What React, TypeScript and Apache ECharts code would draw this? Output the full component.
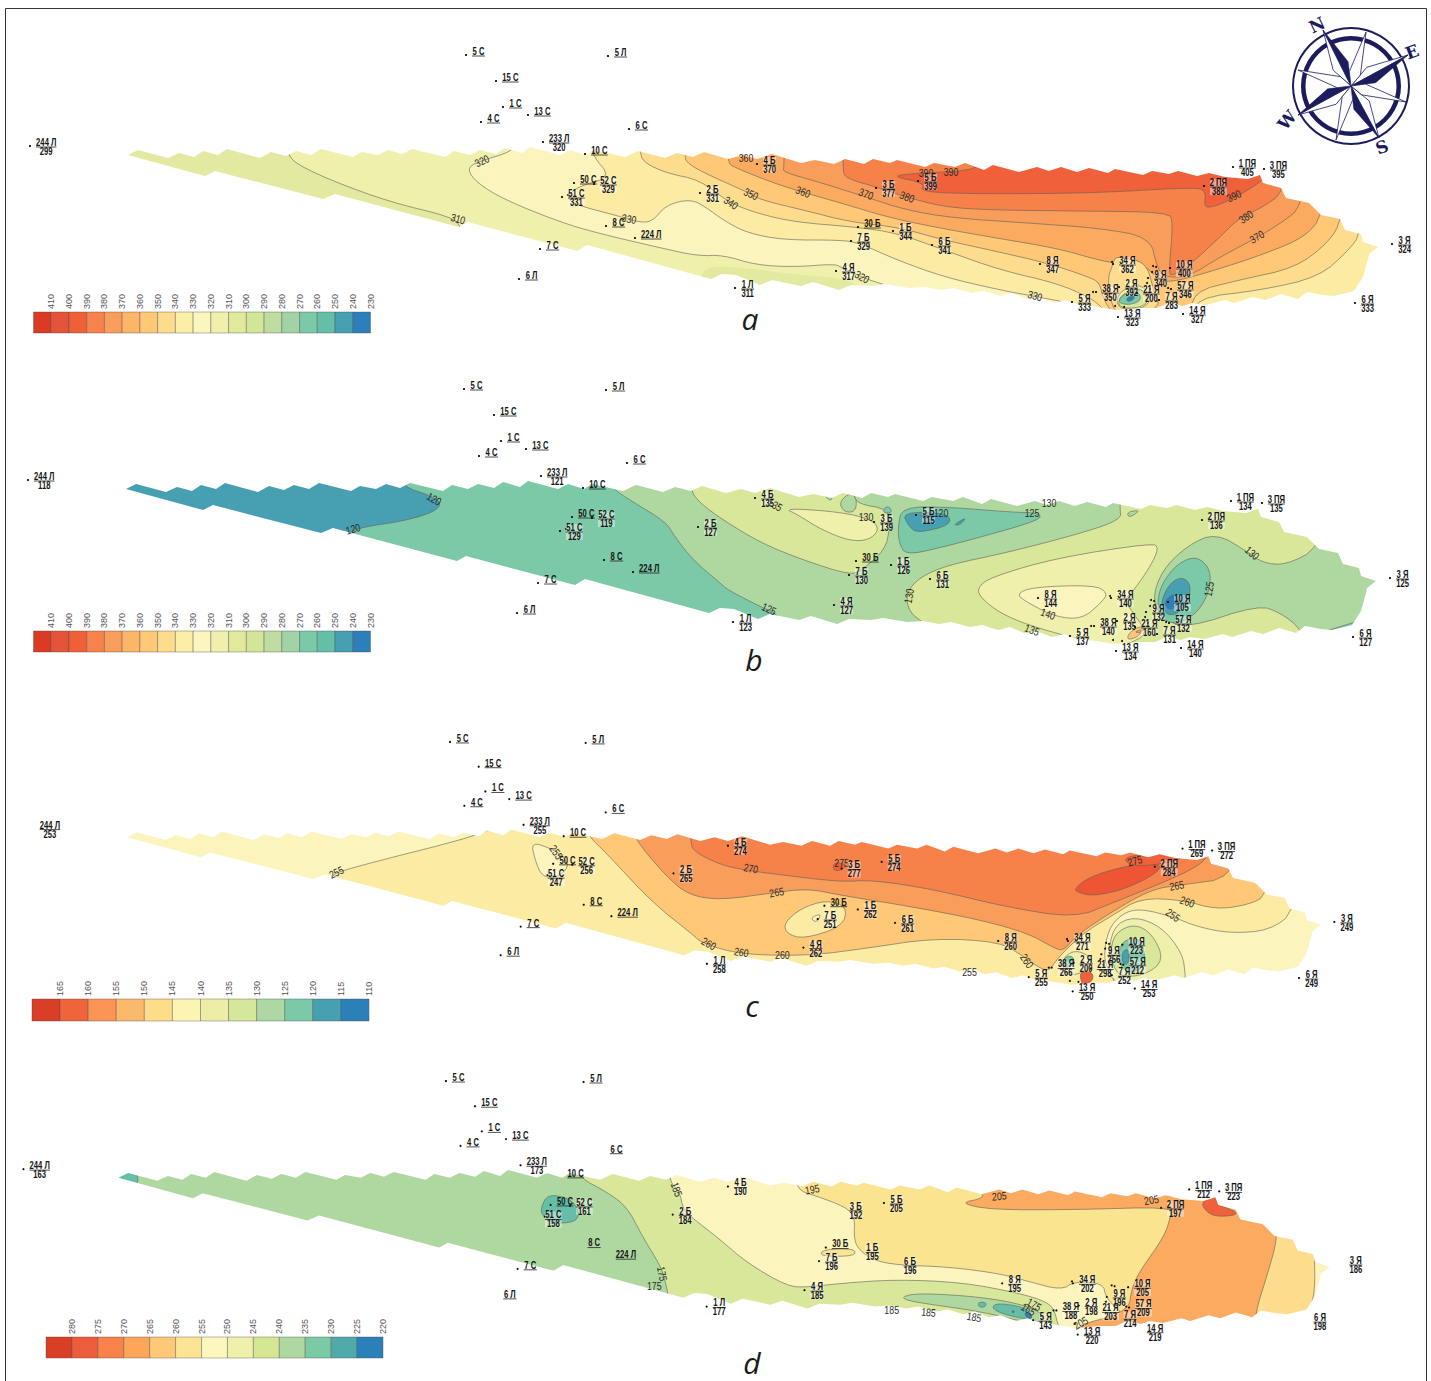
import React, { useEffect, useRef } from "react";
import * as echarts from "echarts";

// ---------- wells (map coordinates) ----------
const wellNames = ["244 Л","233 Л","5 С","5 Л","15 С","1 С","13 С","4 С","6 С","10 С","50 С","52 С","51 С","8 С","224 Л","7 С","6 Л","2 Б","4 Б","3 Б","5 Б","30 Б","1 Б","6 Б","7 Б","1 Л","4 Я","8 Я","34 Я","10 Я","9 Я","57 Я","38 Я","2 Я","21 Я","7 Я","5 Я","13 Я","14 Я","6 Я","3 Я","1 ПЯ","3 ПЯ","2 ПЯ"];
const wellX = [30,543,466,608,496,503,528,481,629,585,574,594,562,606,635,540,519,700,757,876,918,858,893,932,851,735,836,1040,1113,1170,1148,1171,1096,1119,1137,1159,1072,1118,1183,1355,1392,1233,1264,1204];
const wellY = [146,142,55,56,81,107,115,122,129,154,183,184,197,226,238,249,279,193,164,188,181,227,231,245,241,288,271,264,264,268,278,289,292,287,293,300,302,317,314,303,244,167,169,186];
const _ = null;
const valuesA = [299,320,_,_,_,_,_,_,_,_,_,329,331,_,_,_,_,331,370,377,399,_,344,341,329,311,317,347,362,400,340,346,350,392,200,283,333,323,327,333,324,405,395,388];
const valuesB = [118,121,_,_,_,_,_,_,_,_,_,119,129,_,_,_,_,127,135,139,115,_,126,131,130,123,127,144,140,105,132,132,140,135,160,131,137,134,140,127,125,134,135,136];
const valuesC = [253,255,_,_,_,_,_,_,_,_,_,256,247,_,_,_,_,265,274,277,274,_,262,261,251,258,262,260,271,223,256,212,266,200,298,252,255,250,253,249,249,269,272,284];
const valuesD = [163,173,_,_,_,_,_,_,_,_,_,161,158,_,_,_,_,184,190,192,205,_,195,196,196,177,185,195,202,205,196,209,188,198,203,214,143,220,219,198,186,212,223,197];
const extraDotsX = [1112,1153,1156,1152,1147,1150,1168,1115,1124,1157,1093,568];
const extraDotsY = [262,266,267,272,283,289,288,306,307,301,292,195];

// ---------- map outline (map coordinates) ----------
const outline = [[128,155],[138,150],[168,158],[179,153],[194,157],[203,151],[218,155],[227,149],[260,158],[271,152],[286,156],[296,151],[311,155],[321,149],[353,157],[362,152],[378,155],[388,150],[402,154],[412,149],[445,157],[454,151],[470,155],[480,150],[496,154],[505,148],[522,153],[530,147],[560,155],[570,150],[586,155],[594,150],[625,157],[638,151],[665,158],[677,153],[693,157],[704,152],[728,159],[743,155],[757,159],[772,154],[801,163],[815,160],[834,164],[845,159],[864,164],[873,159],[890,163],[897,160],[925,167],[934,163],[955,167],[965,163],[984,170],[993,165],[1019,172],[1037,167],[1049,171],[1061,167],[1077,172],[1089,168],[1108,173],[1115,169],[1143,175],[1152,171],[1169,174],[1178,171],[1197,176],[1209,173],[1225,177],[1248,179],[1260,175],[1263,183],[1281,188],[1286,198],[1309,203],[1321,215],[1340,219],[1345,230],[1361,234],[1363,242],[1378,247],[1369,254],[1368,259],[1363,277],[1354,291],[1334,296],[1323,295],[1307,292],[1298,299],[1281,294],[1265,300],[1253,297],[1234,303],[1225,300],[1206,305],[1192,303],[1183,306],[1169,303],[1157,308],[1141,308],[1117,310],[1098,307],[1080,305],[1066,300],[1054,303],[1038,297],[1026,299],[1012,293],[1000,296],[984,291],[972,293],[953,288],[941,290],[925,287],[909,288],[885,284],[873,286],[851,285],[839,290],[813,282],[801,286],[772,280],[760,285],[736,275],[722,274],[711,279],[587,245],[577,251],[468,222],[459,227],[335,194],[323,199],[215,171],[205,176]];
const full = [[100,135],[1400,135],[1400,325],[100,325]];
const maskBox = [[90,125],[1410,125],[1410,332],[90,332]];

// ---------- filled contour bands (tone, polygon) ----------
const bandsA: any[] = [
["g2",full,false],
["g1",[[288,140],[288,155],[298,165],[335,182],[390,202],[452,217],[461,227],[470,250],[700,300],[1000,322],[1395,322],[1395,140]]],
["y3",[[514,140],[514,151],[477,162],[467,169],[477,183],[505,200],[560,222],[597,233],[661,248],[698,256],[723,255],[756,265],[794,267],[834,264],[841,267],[862,277],[878,283],[902,289],[925,300],[1000,322],[1395,322],[1395,140]]],
["g2",[[700,268],[730,266],[790,274],[840,278],[860,286],[860,300],[700,300]],false],
["y2",[[592,140],[592,155],[611,177],[583,185],[569,193],[569,203],[622,217],[638,222],[652,222],[666,205],[691,199],[707,208],[723,220],[747,233],[784,240],[841,240],[859,243],[897,260],[944,277],[1000,290],[1038,297],[1070,303],[1090,322],[1395,322],[1395,140]]],
["y1",[[640,140],[640,151],[643,162],[666,173],[700,180],[728,202],[756,213],[794,222],[855,227],[897,233],[944,250],[1000,270],[1056,283],[1089,297],[1103,308],[1110,322],[1195,322],[1195,298],[1262,290],[1319,277],[1349,250],[1361,233],[1370,140]]],
["o4",[[685,140],[685,155],[686,162],[702,172],[747,192],[761,200],[803,210],[850,222],[897,227],[944,240],[990,250],[1047,263],[1089,277],[1100,283],[1103,300],[1120,322],[1192,322],[1192,292],[1239,280],[1295,268],[1328,243],[1342,220],[1350,140]]],
["o3",[[728,140],[728,162],[733,167],[784,187],[841,203],[887,217],[934,227],[990,237],[1056,248],[1098,260],[1115,263],[1140,262],[1160,280],[1173,282],[1216,270],[1267,253],[1305,237],[1323,215],[1330,140]]],
["o2",[[784,140],[784,167],[783,172],[822,183],[869,198],[906,210],[953,218],[1028,223],[1098,228],[1150,237],[1157,267],[1164,277],[1188,277],[1220,257],[1258,237],[1281,223],[1302,207],[1310,140]]],
["o1",[[843,140],[843,169],[845,178],[876,187],[906,197],[944,207],[991,210],[1075,211],[1169,212],[1173,223],[1169,270],[1171,277],[1192,263],[1220,237],[1239,218],[1263,207],[1284,192],[1290,140]]],
["r2",[[981,150],[981,170],[920,173],[890,176],[925,183],[920,192],[981,194],[1098,193],[1197,187],[1206,192],[1204,207],[1213,207],[1230,200],[1260,183],[1270,170],[1270,150]]],
["y1",[[1112,267],[1115,257],[1123,258],[1137,260],[1147,267],[1152,283],[1155,297],[1160,303],[1150,312],[1123,312],[1115,312],[1110,297],[1108,277]]],
["g1",[[1118,292],[1140,283],[1152,298],[1143,309],[1117,309]]],
["g3",[[1120,295],[1140,287],[1150,300],[1140,308],[1118,308]]],
["t1",[[1122,295],[1137,290],[1142,300],[1130,305],[1118,303]]],
["b1",[[1127,297],[1135,296],[1133,300],[1127,302]]],
];
const bandsB: any[] = [
["t1",full,false],
["t3",[[406,140],[406,153],[431,161],[444,169],[436,178],[406,187],[365,193],[349,199],[340,220],[110,200],[110,140]]],
["g4",[[612,140],[612,153],[635,168],[668,188],[677,203],[695,226],[722,249],[730,256],[763,273],[782,281],[800,322],[1395,322],[1395,140]]],
["g3",[[693,140],[693,157],[702,169],[725,186],[763,209],[805,226],[852,241],[864,236],[887,216],[892,193],[890,175],[860,170],[855,160],[855,140]]],
["g4",[[841,168],[846,178],[857,178],[859,166],[853,158]]],
["g4",[[824,159],[833,168],[835,160]]],
["t1",[[885,179],[894,179],[892,173],[887,173]]],
["g3",[[1122,150],[1340,150],[1321,214],[1288,231],[1265,229],[1250,218],[1218,199],[1190,211],[1164,236],[1154,266],[1166,286],[1190,294],[1260,271],[1283,279],[1304,296],[1310,322],[940,322],[936,296],[927,290],[911,278],[908,259],[922,243],[950,231],[1007,219],[1077,201],[1123,186],[1122,174]]],
["g4",[[1129,178],[1143,176],[1131,184]]],
["t1",[[904,173],[950,173],[1011,178],[1042,179],[1042,186],[983,203],[941,214],[908,221],[901,209],[900,193]]],
["t3",[[904,178],[950,179],[953,191],[920,199],[911,193]]],
["t3",[[955,191],[969,183],[962,191]]],
["g1",[[979,254],[993,243],[1058,224],[1154,209],[1161,214],[1152,233],[1136,256],[1126,266],[1138,283],[1150,300],[1126,312],[1110,312],[1072,303],[1030,291],[1002,279],[983,264]]],
["y3",[[1018,260],[1035,253],[1096,251],[1110,259],[1103,269],[1084,285],[1058,283],[1030,269]]],
["g1",[[786,174],[843,178],[875,186],[881,196],[871,206],[852,207],[824,196],[800,181]]],
["t1",[[1199,222],[1213,236],[1211,259],[1199,279],[1180,290],[1164,286],[1159,269],[1164,249],[1180,229]]],
["t3",[[1185,243],[1193,251],[1190,269],[1175,283],[1164,276],[1164,264],[1173,248]]],
["b1",[[1173,261],[1180,261],[1178,273],[1171,276],[1166,269]]],
["o4",[[1131,299],[1140,293],[1147,293],[1140,303],[1129,306]]],
["o2",[[1136,298],[1145,295],[1142,299]]],
];
const bandsC: any[] = [
["y3",full,false],
["y2",[[509,140],[509,150],[355,189],[341,196],[330,225],[700,300],[1000,322],[1165,322],[1160,301],[1150,284],[1155,252],[1170,235],[1189,230],[1224,239],[1248,249],[1283,256],[1324,253],[1351,233],[1360,140]]],
["y3",[[551,160],[572,167],[584,175],[591,186],[577,198],[562,196],[555,179]]],
["o4",[[610,140],[610,153],[630,172],[677,223],[721,258],[728,265],[757,275],[791,279],[846,279],[900,272],[973,261],[1042,265],[1066,280],[1081,291],[1093,296],[1101,284],[1116,268],[1135,252],[1160,237],[1189,219],[1233,221],[1268,231],[1302,226],[1322,216],[1330,140]]],
["y2",[[816,245],[833,230],[860,221],[882,228],[877,249],[836,262],[818,256]]],
["y3",[[843,240],[855,235],[850,245]]],
["o2",[[658,140],[658,155],[692,196],[716,216],[749,221],[801,214],[840,209],[875,216],[949,228],[1022,242],[1071,256],[1096,270],[1108,275],[1120,260],[1150,239],[1199,210],[1233,205],[1285,198],[1300,140]]],
["o1",[[718,140],[718,160],[721,170],[749,184],[777,190],[816,195],[875,202],[909,200],[973,210],[1047,228],[1120,240],[1160,224],[1219,200],[1248,186],[1260,175],[1270,140]]],
["r2",[[868,181],[882,184],[875,190],[867,190]]],
["r3",[[1120,209],[1135,197],[1170,186],[1206,181],[1211,190],[1175,209],[1140,217],[1123,213]]],
["r2",[[1170,175],[1214,172],[1238,175],[1214,183],[1179,186]]],
["g1",[[1160,249],[1182,238],[1211,249],[1233,277],[1236,300],[1236,312],[1160,312],[1155,284]]],
["g3",[[1162,256],[1182,246],[1201,256],[1214,284],[1194,300],[1165,302],[1157,277]]],
["t1",[[1167,267],[1182,260],[1192,267],[1194,291],[1179,298],[1167,291]]],
["t3",[[1170,275],[1177,272],[1177,288],[1170,288]]],
["g1",[[1106,284],[1120,273],[1138,281],[1135,295],[1111,302]]],
["t1",[[1108,282],[1118,279],[1120,289],[1108,293]]],
["r2",[[1125,296],[1138,296],[1140,305],[1128,312]]],
];
const bandsD: any[] = [
["g4",full,false],
["t2",[[120,150],[148,148],[148,165],[120,165]]],
["t2",[[571,173],[586,174],[598,180],[604,193],[598,201],[577,202],[564,193],[565,183]]],
["g3",[[604,140],[604,155],[631,169],[653,185],[669,216],[688,247],[693,264],[700,300],[1395,322],[1395,140]]],
["y3",[[697,140],[697,159],[707,169],[711,188],[721,197],[748,218],[777,243],[818,267],[839,268],[873,264],[931,260],[999,263],[1057,274],[1086,283],[1094,292],[1098,309],[1106,322],[1395,322],[1395,140]]],
["y0",[[827,140],[827,159],[832,169],[849,174],[878,185],[888,195],[887,219],[893,230],[907,240],[931,245],[985,247],[1038,254],[1067,262],[1101,271],[1115,262],[1144,264],[1147,278],[1156,288],[1164,295],[1144,305],[1115,309],[1110,322],[1395,322],[1395,140]]],
["y0",[[852,236],[855,229],[888,228],[888,236]]],
["y1",[[1301,322],[1301,295],[1314,254],[1324,218],[1321,200],[1362,225],[1363,273],[1356,295],[1380,322]],false],
["y3",[[1362,225],[1363,273],[1356,295],[1395,322],[1395,200]]],
["o3",[[1018,140],[1018,169],[1021,176],[996,181],[1028,188],[1115,188],[1214,185],[1214,195],[1207,216],[1183,250],[1176,264],[1173,274],[1171,288],[1154,298],[1130,304],[1120,309],[1130,322],[1301,322],[1301,295],[1314,254],[1324,218],[1321,200],[1290,140]]],
["r2",[[1245,181],[1258,172],[1263,183],[1282,190],[1280,194],[1260,195],[1251,190]]],
["r2",[[1185,304],[1195,305],[1190,309]]],
["g4",[[935,278],[955,274],[1018,278],[1062,286],[1081,295],[1084,304],[1062,304],[1018,293],[946,283]]],
["t2",[[1031,284],[1062,288],[1072,298],[1067,302],[1031,293]]],
["t2",[[1016,283],[1024,284],[1022,289],[1015,288]]],
["b1",[[1050,292],[1053,293],[1051,295]]],
["b1",[[1063,294],[1069,295],[1071,300],[1065,300]]],
];

// ---------- contour labels: x, y, clockwise angle, text ----------
const labelsA: any[] = [[746,158,0,"360"],[803,192,20,"360"],[751,194,25,"350"],[731,203,35,"340"],[866,194,20,"370"],[907,197,20,"380"],[926,173,0,"390"],[951,172,0,"390"],[1234,196,-25,"390"],[1246,217,-35,"380"],[1257,237,-30,"370"],[1035,296,15,"330"],[862,277,30,"320"],[458,219,15,"310"],[482,161,-25,"320"],[629,219,10,"330"]];
const labelsB: any[] = [[436,165,30,"120"],[355,195,-15,"120"],[771,275,25,"125"],[911,262,-80,"130"],[868,183,0,"130"],[777,171,30,"135"],[943,179,0,"120"],[1034,179,0,"125"],[1051,169,0,"130"],[1254,219,40,"130"],[1211,255,-80,"125"],[1050,280,20,"140"],[1034,296,20,"135"]];
const labelsC: any[] = [[347,192,-25,"255"],[577,171,55,"255"],[737,267,30,"260"],[771,276,10,"260"],[814,279,0,"260"],[781,188,10,"270"],[876,182,0,"275"],[808,213,-10,"265"],[1070,285,55,"260"],[1010,297,0,"255"],[1183,180,-15,"275"],[1227,206,-10,"265"],[1238,223,20,"260"],[1223,237,35,"255"]];
const labelsD: any[] = [[704,167,70,"185"],[689,254,80,"175"],[681,267,0,"175"],[844,167,-10,"195"],[1037,174,-5,"205"],[1194,178,-10,"205"],[926,292,0,"185"],[964,294,5,"185"],[1011,299,10,"185"],[1073,286,30,"175"],[1067,291,30,"165"],[1121,305,-30,"205"]];

// ---------- legends ----------
const levelsAB = [410,400,390,380,370,360,350,340,330,320,310,300,290,280,270,260,250,240,230];
const colorsAB = ["#DB3A24","#E5533A","#F06038","#F8824B","#F99D5B","#FDB668","#FEC877","#FDDC8C","#FBEEA6","#FBF5BF","#EFF0AC","#E1E99C","#D3E698","#BFDDA0","#A2D3A4","#7CC9A7","#65BFA8","#46A0B2","#2B80BA"];
const levelsC = [165,160,155,150,145,140,135,130,125,120,115,110];
const colorsC = ["#DB3E26","#F0643C","#FB9454","#FDB96B","#FEDD88","#FCF4B3","#EEEDA8","#D5E79A","#ADD8A3","#7CC9A9","#46A0B2","#2B80BA"];
const levelsD = [280,275,270,265,260,255,250,245,240,235,230,225,220];
const colorsD = ["#DB3E26","#EE5D3B","#F9824B","#FCA65A","#FEC876","#FDE495","#FDF6BF","#EFF0AC","#D5E794","#AFD8A0","#7CC9A6","#50AAAA","#2B80BA"];

const tones: Record<string,string> = { r3:"#EE5535", r2:"#F0603A", o1:"#F6824A", o2:"#F99D5B", o3:"#FBAA60", o4:"#FEC877", y0:"#FBE490", y1:"#FDDD8D", y2:"#FCEBA3", y3:"#FBF4BC", g1:"#EFF0AC", g2:"#E3E9A0", g3:"#D9E79A", g4:"#AED8A0", t1:"#7CC9A7", t2:"#65BFA8", t3:"#46A0B2", b1:"#2B80BA" };

const SANS = '"Liberation Sans",sans-serif';
const X_RANGE = [20, 1420];
const Y_RANGE = [0, 340];

// panel placement on the page
const panels = [
  { sx: 1, tx: 0, sy: 1, ty: 0, bands: bandsA, labels: labelsA, values: valuesA },
  { sx: 1, tx: -2, sy: 1, ty: 334, bands: bandsB, labels: labelsB, values: valuesB },
  { sx: 0.955, tx: 5, sy: 0.952, ty: 689.6, bands: bandsC, labels: labelsC, values: valuesC },
  { sx: 0.969, tx: -5.6, sy: 0.968, ty: 1027.8, bands: bandsD, labels: labelsD, values: valuesD },
];
const legends = [
  { left: 33.5, top: 312, w: 337, h: 21, levels: levelsAB, colors: colorsAB },
  { left: 33.5, top: 631, w: 337, h: 21, levels: levelsAB, colors: colorsAB },
  { left: 32, top: 999, w: 337, h: 22, levels: levelsC, colors: colorsC },
  { left: 46, top: 1337, w: 337, h: 21, levels: levelsD, colors: colorsD },
];

// rounds the corners of a closed contour so it reads as a smooth isoline
function rounded(pts: number[][], rounds: number): number[][] {
  let cur = pts;
  for (let r = 0; r < rounds; r++) {
    const next: number[][] = [];
    cur.forEach((p, i) => {
      const q = cur[(i + 1) % cur.length];
      next.push([p[0] * 0.75 + q[0] * 0.25, p[1] * 0.75 + q[1] * 0.25]);
      next.push([p[0] * 0.25 + q[0] * 0.75, p[1] * 0.25 + q[1] * 0.75]);
    });
    cur = next;
  }
  return cur;
}

// ---------- compass (offsets from its centre) ----------
const compassCentre = [1351, 86];
const majorTips = [[-28,-56],[57,-31],[28,52],[-53,29]];
const minorTips = [[15,-54],[55,16],[-15,54],[-53,-16]];

function compass(): any[] {
  const [cx, cy] = compassCentre;
  const navy = "#1B1B5E";
  const P = (p: number[]) => [cx + p[0], cy + p[1]];
  const els: any[] = [
    { type: "ring", shape: { cx, cy, r: 59, r0: 57 }, style: { fill: navy } },
    { type: "ring", shape: { cx, cy, r: 50, r0: 45.5 }, style: { fill: navy } },
  ];
  const inner = (a: number[], b: number[], k = 0.22) => [(a[0] + b[0]) * k, (a[1] + b[1]) * k];
  majorTips.forEach((t, i) => {
    const r = inner(t, minorTips[i]);
    const l = inner(minorTips[(i + 3) % 4], t);
    els.push({ type: "polygon", shape: { points: [[0,0],l,t].map(P) }, style: { fill: "#fff", stroke: navy, lineWidth: 0.8 } });
    els.push({ type: "polygon", shape: { points: [[0,0],t,r].map(P) }, style: { fill: navy, stroke: navy, lineWidth: 0.5 } });
  });
  minorTips.forEach((t, i) => {
    const l = inner(majorTips[i], t, 0.13);
    const r = inner(t, majorTips[(i + 1) % 4], 0.13);
    els.push({ type: "polygon", shape: { points: [[0,0],l,t,r].map(P) }, style: { fill: "#fff", stroke: navy, lineWidth: 0.8 } });
  });
  const letters: any[] = [["N",1317,25,25],["E",1412,52,20],["S",1382,147,20],["W",1287,120,50]];
  letters.forEach(([text, x, y, deg]) => {
    els.push({ type: "text", x, y, rotation: (deg * Math.PI) / 180, style: { text, fill: navy, font: 'bold 17px "DejaVu Serif",serif', align: "center", verticalAlign: "middle" } });
  });
  return els;
}

export default function App() {
  const ref = useRef<HTMLDivElement>(null);
  useEffect(() => {
    const chart = echarts.init(ref.current!, undefined, { renderer: "svg" });
    const grid: any[] = [];
    const xAxis: any[] = [];
    const yAxis: any[] = [];
    const series: any[] = [];

    panels.forEach((p, i) => {
      grid.push({ left: p.tx + X_RANGE[0] * p.sx, top: p.ty + Y_RANGE[0] * p.sy, width: (X_RANGE[1] - X_RANGE[0]) * p.sx, height: (Y_RANGE[1] - Y_RANGE[0]) * p.sy });
      xAxis.push({ type: "value", gridIndex: i, min: X_RANGE[0], max: X_RANGE[1], show: false });
      yAxis.push({ type: "value", gridIndex: i, min: Y_RANGE[0], max: Y_RANGE[1], inverse: true, show: false });
      const common = { type: "custom", xAxisIndex: i, yAxisIndex: i, silent: true, clip: false };
      series.push({
        ...common, z: 1, data: p.bands.map((_b: any, k: number) => [k]),
        renderItem: (rp: any, api: any) => {
          const b = p.bands[rp.dataIndex];
          const pts = b[2] === false && b[1] === full ? b[1] : rounded(b[1], 2);
          return { type: "polygon", shape: { points: pts.map((c: number[]) => api.coord(c)) }, style: { fill: tones[b[0]], stroke: b[2] === false ? "none" : "#5f5f55", lineWidth: 0.6 } };
        },
      });
      const hole = [...outline].reverse();
      const maskPts = [...maskBox, maskBox[0], outline[0], ...hole, maskBox[0]];
      series.push({
        ...common, z: 2, data: [[0]],
        renderItem: (_rp: any, api: any) => ({ type: "polygon", shape: { points: maskPts.map((c) => api.coord(c)) }, style: { fill: "#fff", stroke: "none" } }),
      });
      series.push({
        ...common, z: 3, data: p.labels.map((l: any[]) => [l[0], l[1], l[2]]),
        renderItem: (rp: any, api: any) => {
          const l = p.labels[rp.dataIndex];
          const c = api.coord([l[0], l[1]]);
          return { type: "text", x: c[0], y: c[1], rotation: (-l[2] * Math.PI) / 180, scaleX: 0.8, style: { text: l[3], fill: "#2b2b28", font: `11px ${SANS}`, align: "center", verticalAlign: "middle" } };
        },
      });
      series.push({
        ...common, z: 4, data: extraDotsX.map((x, k) => [x, extraDotsY[k]]),
        renderItem: (_rp: any, api: any) => {
          const c = api.coord([api.value(0), api.value(1)]);
          return { type: "circle", shape: { cx: c[0], cy: c[1], r: 1 }, style: { fill: "#111" } };
        },
      });
      series.push({
        ...common, z: 5, data: wellNames.map((_n, k) => [wellX[k], wellY[k], k]),
        renderItem: (rp: any, api: any) => {
          const k = rp.dataIndex;
          const c = api.coord([wellX[k], wellY[k]]);
          const name = wellNames[k];
          const val = p.values[k];
          const w = name.length * 3.7 + 2;
          const x0 = c[0] + 6;
          const mid = x0 + w / 2;
          const children: any[] = [
            { type: "circle", shape: { cx: c[0], cy: c[1], r: 1.1 }, style: { fill: "#111" } },
          ];
          if (val != null) {
            children.push({ type: "rect", shape: { x: mid - w / 2, y: c[1] - 7, width: w, height: 16 }, style: { fill: "rgba(255,255,255,0.42)" } });
          }
          const font = `bold 9px ${SANS}`;
          children.push({ type: "text", x: mid, y: c[1] - 3.5, scaleX: 0.85, scaleY: 1.15, style: { text: name, fill: "#161616", font, align: "center", verticalAlign: "middle" } });
          children.push({ type: "line", shape: { x1: x0, y1: c[1] + 1, x2: x0 + w, y2: c[1] + 1 }, style: { stroke: "#222", lineWidth: 0.8 } });
          if (val != null) {
            children.push({ type: "text", x: mid, y: c[1] + 5.5, scaleX: 0.85, scaleY: 1.15, style: { text: String(val), fill: "#161616", font, align: "center", verticalAlign: "middle" } });
          }
          return { type: "group", children };
        },
      });
    });

    legends.forEach((l, j) => {
      const i = panels.length + j;
      grid.push({ left: l.left, top: l.top, width: l.w, height: l.h });
      xAxis.push({
        type: "value", gridIndex: i, min: 0, max: l.levels.length, interval: 1, position: "top", z: 10,
        axisLine: { show: false }, axisTick: { show: false }, splitLine: { show: false },
        axisLabel: { rotate: 90, margin: 3, color: "#555", fontSize: 9, fontFamily: SANS, hideOverlap: false, formatter: (v: number) => (v >= 1 ? String(l.levels[v - 1]) : "") },
      });
      yAxis.push({ type: "value", gridIndex: i, min: 0, max: 1, show: false });
      series.push({
        type: "custom", xAxisIndex: i, yAxisIndex: i, z: 6, silent: true,
        data: l.levels.map((_v, k) => [k, 0]),
        renderItem: (rp: any, api: any) => {
          const k = rp.dataIndex;
          const a = api.coord([k, 1]);
          const b = api.coord([k + 1, 0]);
          return { type: "rect", shape: { x: a[0], y: a[1], width: b[0] - a[0], height: b[1] - a[1] }, style: { fill: l.colors[k], stroke: "rgba(70,70,70,0.55)", lineWidth: 0.7 } };
        },
      });
    });

    const letterFont = 'italic 30px "Open Sans",sans-serif';
    chart.setOption({
      animation: false,
      backgroundColor: "#fff",
      grid, xAxis, yAxis, series,
      graphic: [
        { type: "rect", z: 0, shape: { x: 5.5, y: 8.5, width: 1421, height: 1380 }, style: { fill: "none", stroke: "#333", lineWidth: 1 } },
        ...compass().map((e) => ({ ...e, z: 7 })),
        { type: "text", z: 7, x: 750, y: 318, style: { text: "a", fill: "#1a1a1a", font: letterFont, align: "center", verticalAlign: "middle" } },
        { type: "text", z: 7, x: 754, y: 659, style: { text: "b", fill: "#1a1a1a", font: letterFont, align: "center", verticalAlign: "middle" } },
        { type: "text", z: 7, x: 752, y: 1005, style: { text: "c", fill: "#1a1a1a", font: letterFont, align: "center", verticalAlign: "middle" } },
        { type: "text", z: 7, x: 752, y: 1362, style: { text: "d", fill: "#1a1a1a", font: letterFont, align: "center", verticalAlign: "middle" } },
      ],
    });
    return () => chart.dispose();
  }, []);
  return <div ref={ref} style={{ position: "absolute", left: 0, top: 0, width: 1431, height: 1381 }} />;
}
